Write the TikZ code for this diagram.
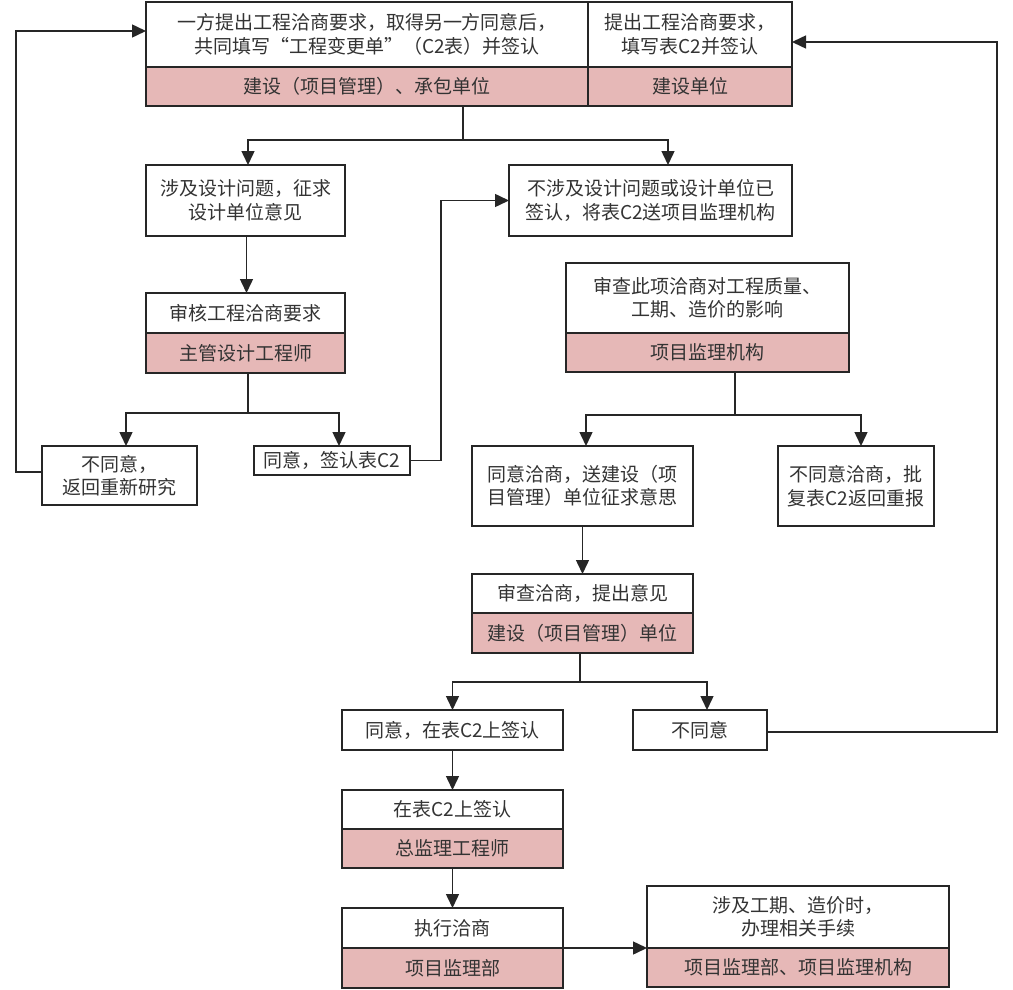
\documentclass[tikz,border=0pt]{standalone}
\usepackage{fontspec}
\setmainfont{Noto Sans CJK SC}
\usepackage{xcolor}
\usepackage{tikz}
\usetikzlibrary{arrows.meta,positioning,calc}
\definecolor{ink}{HTML}{262626}
\definecolor{txt}{HTML}{333333}
\definecolor{orgpink}{HTML}{E6B8B7}
\tikzset{
    every picture/.style={line join=miter},
    textcell/.style={draw=ink,fill=white,line width=1.5pt,inner sep=2pt,outer sep=0pt,
      text=txt,align=center,anchor=north west},
    orgcell/.style={textcell,fill=orgpink},
    flowline/.style={draw=ink,line width=1.5pt},
    flowarrow/.style={-{Triangle[length=14pt,width=13pt]},draw=ink,line width=1.5pt}
}

\begin{document}
\begin{tikzpicture}[x=1pt,y=-1pt,font=\fontsize{19}{23.5}\selectfont]
  \useasboundingbox (0,0) rectangle (1013,990);
  % top: both parties / owner
  \node[textcell,minimum width=442pt,minimum height=65pt] (propose) at (146,2)
    {一方提出工程洽商要求，取得另一方同意后，\\共同填写“工程变更单”（C2表）并签认};
  \node[orgcell,minimum width=442pt,minimum height=39pt,below=0pt of propose] (proposeorg)
    {建设（项目管理）、承包单位};
  \node[textcell,minimum width=204pt,minimum height=65pt,right=0pt of propose] (owner)
    {提出工程洽商要求，\\填写表C2并签认};
  \node[orgcell,minimum width=204pt,minimum height=39pt,below=0pt of owner] (ownerorg) {建设单位};
  % design branch
  \node[textcell,minimum width=199pt,minimum height=71pt] (design) at (146,165)
    {涉及设计问题，征求\\设计单位意见};
  \node[textcell,minimum width=283pt,minimum height=71pt] (nodesign) at (509,165)
    {不涉及设计问题或设计单位已\\签认，将表C2送项目监理机构};
  \node[textcell,minimum width=199pt,minimum height=40pt] (review) at (146,293) {审核工程洽商要求};
  \node[orgcell,minimum width=199pt,minimum height=40pt,below=0pt of review] (reviewer) {主管设计工程师};
  \node[textcell,minimum width=155pt,minimum height=59pt] (reject) at (42,446) {不同意，\\返回重新研究};
  \node[textcell,minimum width=156pt,minimum height=29pt] (signed) at (254,446) {同意，签认表C2};
  % supervision
  \node[textcell,minimum width=283pt,minimum height=70pt] (check) at (566,263)
    {审查此项洽商对工程质量、\\工期、造价的影响};
  \node[orgcell,minimum width=283pt,minimum height=39pt,below=0pt of check] (checkorg) {项目监理机构};
  \node[textcell,minimum width=221pt,minimum height=80pt] (agree) at (472,446)
    {同意洽商，送建设（项\\目管理）单位征求意思};
  \node[textcell,minimum width=156pt,minimum height=80pt] (refuse) at (778,446)
    {不同意洽商，批\\复表C2返回重报};
  \node[textcell,minimum width=221pt,minimum height=39pt] (ownercheck) at (472,574) {审查洽商，提出意见};
  \node[orgcell,minimum width=221pt,minimum height=40pt,below=0pt of ownercheck] (ownercheckorg)
    {建设（项目管理）单位};
  \node[textcell,minimum width=221pt,minimum height=40pt] (ok) at (342,710) {同意，在表C2上签认};
  \node[textcell,minimum width=134pt,minimum height=40pt] (no) at (633,710) {不同意};
  % sign and execute
  \node[textcell,minimum width=221pt,minimum height=39pt] (chiefsign) at (342,790) {在表C2上签认};
  \node[orgcell,minimum width=221pt,minimum height=39pt,below=0pt of chiefsign] (chief) {总监理工程师};
  \node[textcell,minimum width=221pt,minimum height=40pt] (execute) at (342,908) {执行洽商};
  \node[orgcell,minimum width=221pt,minimum height=40pt,below=0pt of execute] (dept) {项目监理部};
  \node[textcell,minimum width=302pt,minimum height=62pt] (formal) at (647,886)
    {涉及工期、造价时，\\办理相关手续};
  \node[orgcell,minimum width=302pt,minimum height=39pt,below=0pt of formal] (formalorg)
    {项目监理部、项目监理机构};

  % connectors
  \coordinate (split1) at (463,140);
  \draw[flowline] (split1 |- proposeorg.south) -- (split1);
  \draw[flowarrow] (split1) -| ([xshift=2.5pt]design.north);
  \draw[flowarrow] (split1) -| ([xshift=17.5pt]nodesign.north);
  \draw[flowarrow] ([xshift=1pt]design.south) -- ([xshift=1pt]review.north);
  \draw[flowline] ([xshift=2.5pt]reviewer.south) -- ++(0,40) coordinate (split2);
  \draw[flowarrow] (split2) -| ([xshift=6.5pt]reject.north);
  \draw[flowarrow] (split2) -| ([xshift=7pt]signed.north);
  \draw[flowarrow] ([yshift=3.5pt]reject.west) -- ++(-26,0) |- ([yshift=3.5pt]propose.west);
  \draw[flowarrow] (signed.east) -- ++(31,0) |- (nodesign.west);
  \draw[flowline] ([xshift=27.5pt]checkorg.south) -- ++(0,43) coordinate (split3);
  \draw[flowarrow] (split3) -| ([xshift=3.5pt]agree.north);
  \draw[flowarrow] (split3) -| ([xshift=5pt]refuse.north);
  \draw[flowarrow] (agree) -- (ownercheck);
  \draw[flowline] ([xshift=-2.5pt]ownercheckorg.south) -- ++(0,29) coordinate (split4);
  \draw[flowarrow] (split4) -| (ok.north);
  \draw[flowarrow] (split4) -| ([xshift=7pt]no.north);
  \draw[flowarrow] ([yshift=-2pt]no.east) -- ++(230,0) |- ([yshift=-7.5pt]owner.east);
  \draw[flowarrow] (ok) -- (chiefsign);
  \draw[flowarrow] (chief) -- (execute);
  \draw[flowarrow] (execute.south east) -- (formal.south west);
\end{tikzpicture}
\end{document}
